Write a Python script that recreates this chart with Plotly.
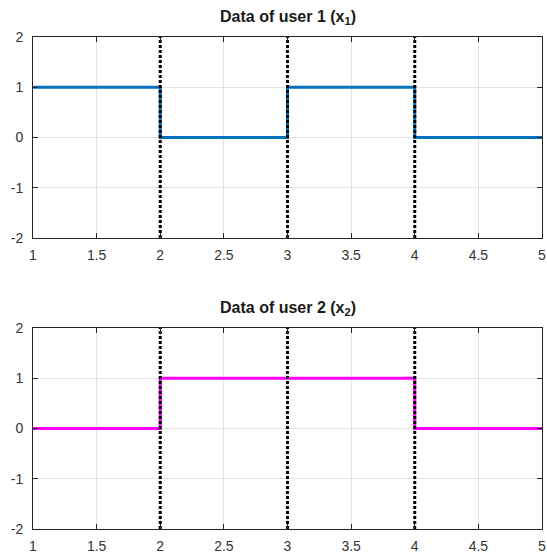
import plotly.graph_objects as go
from plotly.subplots import make_subplots

# Data
t = [1, 2, 3, 4, 5]
user1 = [1, 0, 1, 0, 0]
user2 = [0, 1, 1, 0, 0]
boundaries = [2, 3, 4]
titles = ["<b>Data of user 1 (x<sub>1</sub>)</b>", "<b>Data of user 2 (x<sub>2</sub>)</b>"]
xticks = [1, 1.5, 2, 2.5, 3, 3.5, 4, 4.5, 5]
xticklabels = ["1", "1.5", "2", "2.5", "3", "3.5", "4", "4.5", "5"]
yticks = [-2, -1, 0, 1, 2]
yticklabels = ["-2", "-1", "0", "1", "2"]
ylim = [-2, 2]

W, H = 547, 558
fig = make_subplots(rows=2, cols=1)

series = [(user1, "#0072BD"), (user2, "#FF00FF")]
for i, (vals, col) in enumerate(series, start=1):
    fig.add_trace(go.Scatter(x=t, y=vals, mode="lines", line=dict(shape="hv", color=col, width=3),
                             showlegend=False), row=i, col=1)
    for b in boundaries:
        fig.add_trace(go.Scatter(x=[b, b], y=ylim, mode="lines",
                                 line=dict(color="black", width=3, dash="3px,2px"),
                                 showlegend=False), row=i, col=1)

axis_font = dict(family="Liberation Sans, Arial, sans-serif", size=14, color="#333333")
common_x = dict(range=[1, 5], tickvals=xticks, ticktext=xticklabels, showgrid=True, gridcolor="#e3e3e3",
                gridwidth=1, zeroline=False, showline=True, linecolor="#262626", linewidth=1, mirror="ticks",
                ticks="inside", ticklen=5, tickcolor="#262626", tickfont=axis_font, ticklabelstandoff=4,
                automargin=False)
common_y = dict(range=ylim, tickvals=yticks, ticktext=yticklabels, showgrid=True, gridcolor="#e3e3e3",
                gridwidth=1, zeroline=False, showline=True, linecolor="#262626", linewidth=1, mirror="ticks",
                ticks="inside", ticklen=5, tickcolor="#262626", tickfont=axis_font, ticklabelstandoff=6,
                automargin=False)

def py(px):
    return 1 - px / H

fig.update_layout(
    xaxis=dict(common_x, domain=[0, 1]),
    yaxis=dict(common_y, domain=[py(238), py(37)]),
    xaxis2=dict(common_x, domain=[0, 1]),
    yaxis2=dict(common_y, domain=[py(529), py(328)]),
    width=W, height=H,
    margin=dict(l=33, r=5, t=0, b=0, autoexpand=False),
    plot_bgcolor="white", paper_bgcolor="white",
)

for title, ycen in zip(titles, [py(17), py(308)]):
    fig.add_annotation(text=title, xref="paper", yref="paper", x=0.5, y=ycen, xanchor="center",
                       yanchor="middle", showarrow=False,
                       font=dict(family="Liberation Sans, Arial, sans-serif", size=16, color="#1a1a1a"))

fig.write_html("out.html")
